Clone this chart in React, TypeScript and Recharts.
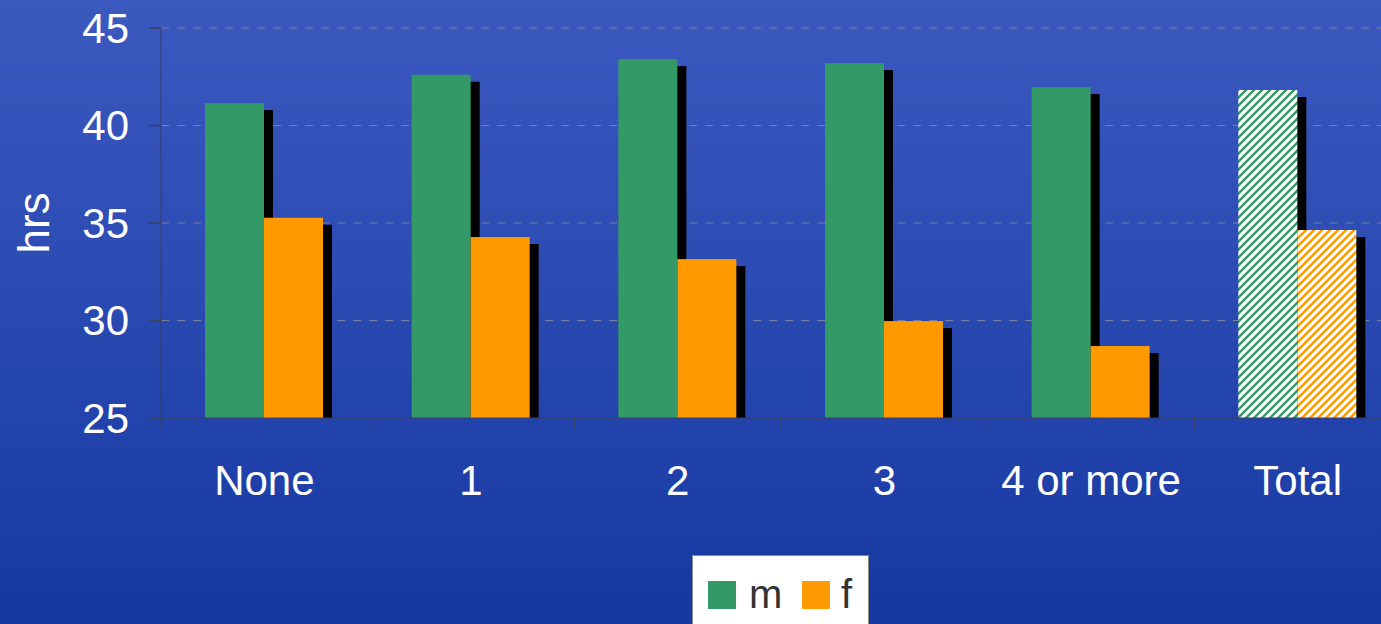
import React from 'react';
import { BarChart, Bar, XAxis, YAxis, CartesianGrid } from 'recharts';

const categories = ['None', '1', '2', '3', '4 or more', 'Total'];
const maleHours = [41.15, 42.6, 43.4, 43.2, 41.97, 41.82];
const femaleHours = [35.27, 34.28, 33.15, 29.97, 28.69, 34.64];
const yTicks = [25, 30, 35, 40, 45];

const GREEN = '#339966';
const ORANGE = '#FF9900';
const FONT = '"Liberation Sans", Arial, Helvetica, sans-serif';

const data = categories.map((name, i) => ({
  name,
  m: maleHours[i],
  f: femaleHours[i],
}));

const CHART_W = 1401;
const CHART_H = 624;
const Y_AXIS_W = 161;
const AXIS_COLOR = '#3a3f5c';

// bar with a black drop shadow; the "Total" group is drawn hatched
const makeShape = (color: string, key: string) => (props: any) => {
  const { x, y, width, height, payload } = props;
  const hatched = payload?.name === 'Total';
  const pid = `hatch-${key}`;
  return (
    <g>
      {hatched && (
        <defs>
          <pattern id={pid} patternUnits="userSpaceOnUse" width={8} height={8}>
            <rect width={8} height={8} fill="#ffffff" />
            <path
              d="M-2,2 L2,-2 M0,8 L8,0 M6,10 L10,6"
              stroke={color}
              strokeWidth={2.4}
            />
          </pattern>
        </defs>
      )}
      <rect x={x + 9} y={y + 7} width={width} height={Math.max(height - 7, 0)} fill="#000" />
      <rect x={x} y={y} width={width} height={height} fill={hatched ? `url(#${pid})` : color} />
    </g>
  );
};

// category label plus a tick mark on the left edge of each band
const XTick = (props: any) => {
  const { x, y, payload } = props;
  const band = (CHART_W - Y_AXIS_W) / categories.length;
  const bx = x - band / 2;
  return (
    <g>
      <line x1={bx} y1={y - 12} x2={bx} y2={y} stroke={AXIS_COLOR} strokeWidth={1} />
      <text x={x} y={y + 65} textAnchor="middle" fill="#ffffff" fontSize={42} fontFamily={FONT}>
        {payload.value}
      </text>
    </g>
  );
};

const YLabel = (props: any) => {
  const { viewBox } = props;
  const cx = viewBox.x + 49;
  const cy = viewBox.y + viewBox.height / 2;
  return (
    <text
      x={cx}
      y={cy}
      transform={`rotate(-90, ${cx}, ${cy})`}
      textAnchor="middle"
      fill="#ffffff"
      fontSize={44}
      fontFamily={FONT}
    >
      hrs
    </text>
  );
};

const App = () => {
  return (
    <div
      style={{
        position: 'fixed',
        left: 0,
        top: 0,
        width: 1381,
        height: 624,
        overflow: 'hidden',
        background: 'linear-gradient(to bottom, #3b59bf 0%, #2c4bb3 45%, #1438a0 100%)',
        fontFamily: FONT,
      }}
    >
      <BarChart
        width={CHART_W}
        height={CHART_H}
        data={data}
        margin={{ top: 28, right: 0, left: 0, bottom: 0 }}
        barCategoryGap={44}
        barGap={0}
      >
        <CartesianGrid
          vertical={false}
          stroke="#7a7f9e"
          strokeDasharray="8 8"
          horizontalValues={[30, 35, 40, 45]}
        />
        <XAxis
          dataKey="name"
          height={206}
          tickLine={false}
          tickSize={12}
          tickMargin={0}
          axisLine={{ stroke: AXIS_COLOR, strokeWidth: 1 }}
          tick={<XTick />}
          interval={0}
        />
        <YAxis
          width={Y_AXIS_W}
          domain={[25, 45]}
          ticks={yTicks}
          allowDataOverflow
          tickSize={12}
          tickMargin={20}
          axisLine={{ stroke: AXIS_COLOR, strokeWidth: 1 }}
          tickLine={{ stroke: AXIS_COLOR, strokeWidth: 1.5 }}
          tick={{ fill: '#ffffff', fontSize: 42, fontFamily: FONT }}
          label={<YLabel />}
        />
        <Bar dataKey="m" isAnimationActive={false} shape={makeShape(GREEN, 'm')} />
        <Bar dataKey="f" isAnimationActive={false} shape={makeShape(ORANGE, 'f')} />
      </BarChart>
      <div
        style={{
          position: 'absolute',
          left: 692,
          top: 555,
          width: 177,
          height: 80,
          background: '#ffffff',
          border: '1px solid #8a8a8a',
          boxSizing: 'border-box',
        }}
      >
        <div style={{ position: 'absolute', left: 15, top: 25, width: 28, height: 28, background: GREEN }} />
        <div style={{ position: 'absolute', left: 56, top: 15, fontSize: 40, lineHeight: '46px', color: '#333333' }}>m</div>
        <div style={{ position: 'absolute', left: 109, top: 25, width: 28, height: 28, background: ORANGE }} />
        <div style={{ position: 'absolute', left: 148, top: 15, fontSize: 40, lineHeight: '46px', color: '#333333' }}>f</div>
      </div>
    </div>
  );
};

export default App;
